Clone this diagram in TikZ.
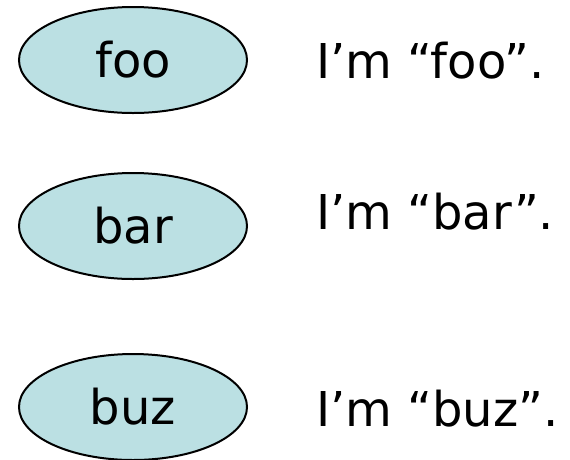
\documentclass[tikz,border=0pt]{standalone}
\usepackage{fontspec}
\setmainfont{DejaVu Sans}
\usetikzlibrary{shapes.geometric}
\definecolor{bubblefill}{HTML}{BBE0E3}
\tikzset{
  bubble/.style={ellipse, draw=black, line width=2pt, fill=bubblefill,
    minimum width=228pt, minimum height=106pt, inner sep=0pt,
    font=\fontsize{48}{48}\selectfont},
  saying/.style={anchor=base west, inner sep=0pt, font=\fontsize{48}{48}\selectfont}
}
\begin{document}
\begin{tikzpicture}[x=1pt,y=-1pt]
  \useasboundingbox (0,0) rectangle (570,459);
  \node[bubble] (foo) at (133,60) {foo};
  \node[bubble] (bar) at (133,226) {bar};
  \node[bubble] (buz) at (133,407) {buz};
  \node[saying] (foosay) at (316,78) {I’m “foo”.};
  \node[saying] (barsay) at (316,229) {I’m “bar”.};
  \node[saying] (buzsay) at (316,426) {I’m “buz”.};
\end{tikzpicture}
\end{document}
